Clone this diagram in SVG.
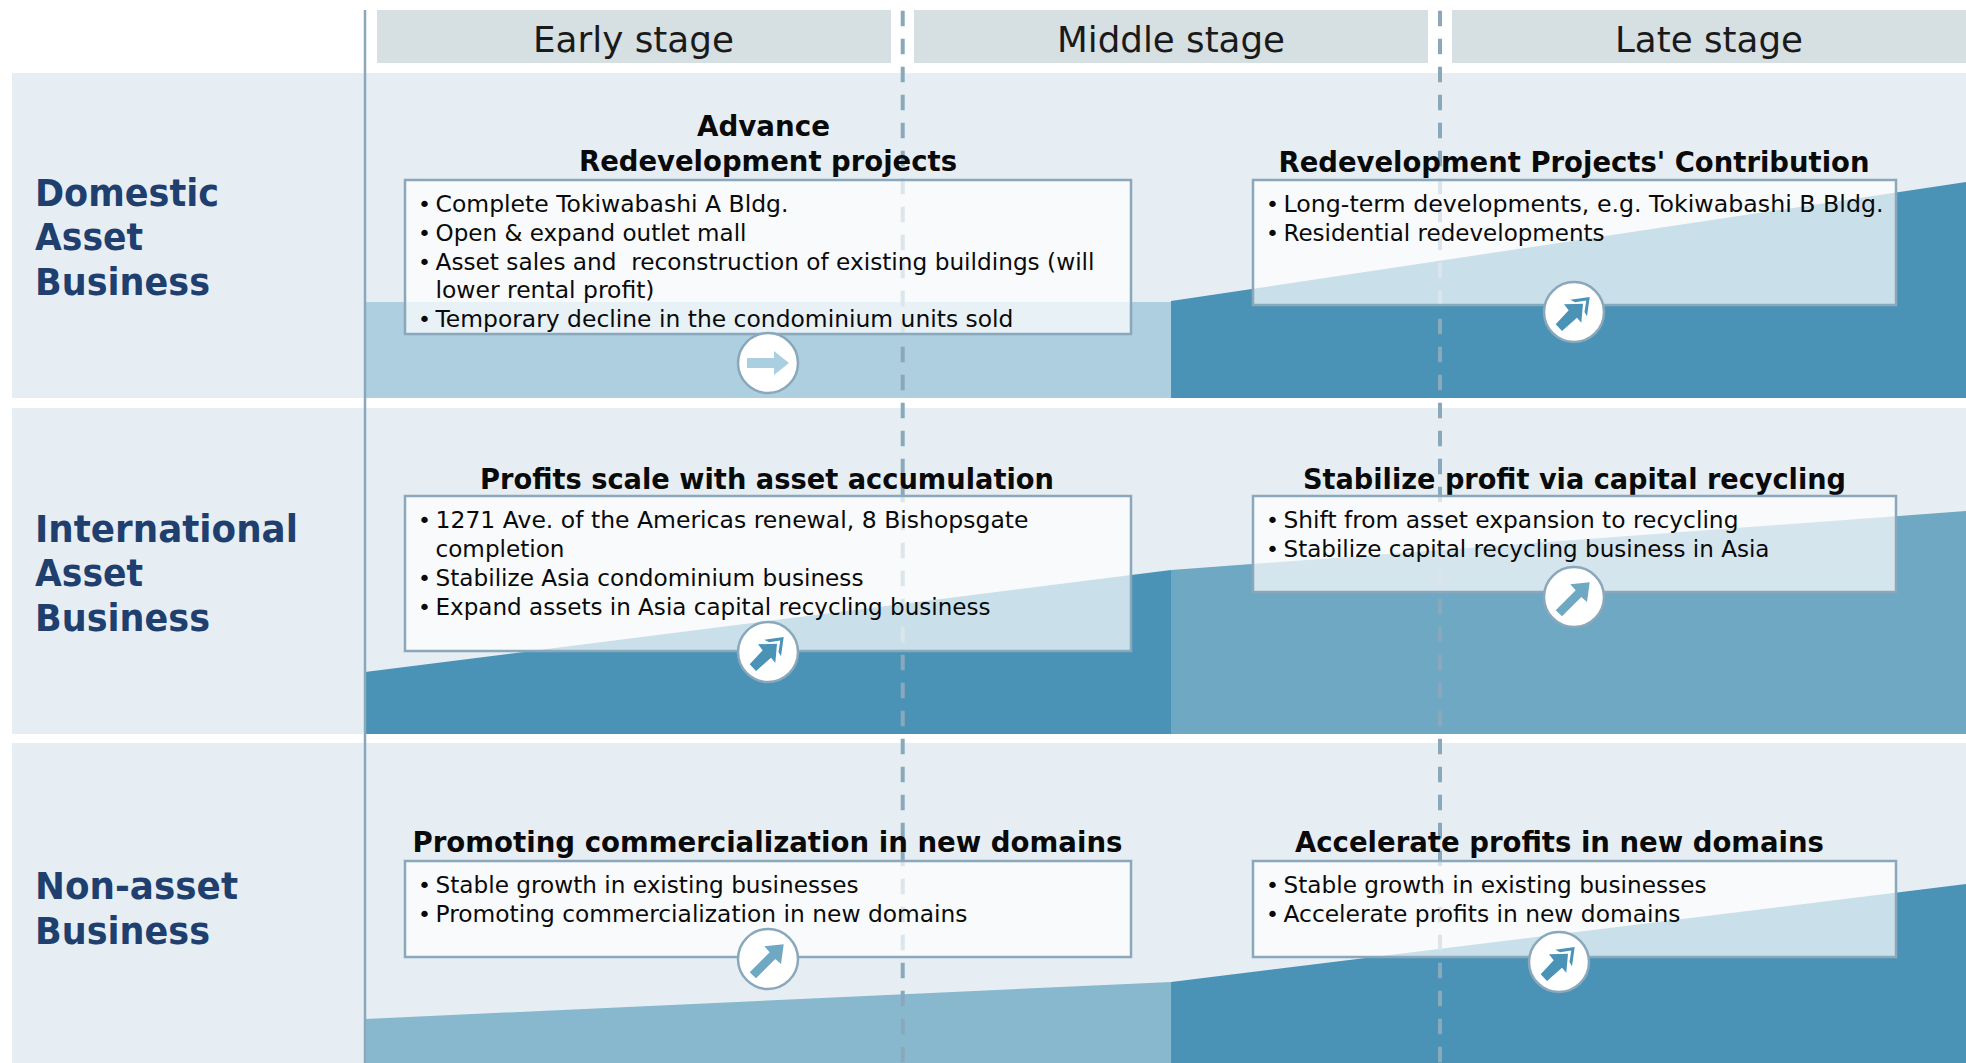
<svg xmlns="http://www.w3.org/2000/svg" width="1966" height="1063" viewBox="0 0 1966 1063">
<style>
text{font-family:"DejaVu Sans","Liberation Sans",sans-serif;fill:#0a0a0a}
.hd{font-size:36px;fill:#1a1a1a}
.lb{font-size:37px;font-weight:700;fill:#1f3f6e}
.ti{font-size:27.5px;font-weight:700}
.bd{font-size:23.5px}
.bu{font-size:22px}
.row{fill:#e6eef4}
.hdr{fill:#d6dfe2}
.box{fill:#fff;fill-opacity:.7;stroke:#8aa8bb;stroke-width:2.5}
.cir{fill:#fff;stroke:#8aa8bb;stroke-width:2.5}
.dash{fill:none;stroke:#8aa8bb;stroke-width:4;stroke-dasharray:15.5 12.5}
.axis{fill:none;stroke:#8aa8bb;stroke-width:2.5}
</style>
<defs>
<g id="dbl" fill="#4a93b6">
<polygon points="-18.3,12.3 -12,19 3,5.7 7.3,10.7 9,-8.3 -10,-7.7 -5.3,-1.7"/>
<polygon points="-3.7,-12.3 15.7,-15 13,4.3 10.5,0 12.3,-11.5 1,-9.7"/>
</g>
<polygon id="sgl" fill="#6fa8c3" points="-18.3,13.3 -12,19.3 7.3,0 13,5 15.7,-14.7 -3.7,-12.7 1.7,-6.7"/>
</defs>
<g id="rows">
<rect class="row" x="12" y="73" width="1954" height="325"/>
<rect class="row" x="12" y="408" width="1954" height="326"/>
<rect class="row" x="12" y="743" width="1954" height="320"/>
</g>
<g id="areas">
<polygon fill="#aecfdf" points="365,302 1171,302 1171,398 365,398"/>
<polygon fill="#4a93b6" points="1171,301 1966,182 1966,398 1171,398"/>
<polygon fill="#4a93b6" points="365,672 1171,570 1171,734 365,734"/>
<polygon fill="#6fa8c3" points="1171,570 1966,511 1966,734 1171,734"/>
<polygon fill="#88b8ce" points="365,1019 1171,982 1171,1063 365,1063"/>
<polygon fill="#4a93b6" points="1171,982 1966,884 1966,1063 1171,1063"/>
</g>
<g id="connectors">
<line class="axis" x1="365" y1="10" x2="365" y2="1063"/>
<line class="dash" x1="902.7" y1="10.7" x2="902.7" y2="1063"/>
<line class="dash" x1="1440" y1="10.7" x2="1440" y2="1063"/>
</g>
<g id="header-early"><rect class="hdr" x="377" y="10" width="514" height="53"/><text class="hd" x="533" y="52" textLength="201" lengthAdjust="spacingAndGlyphs">Early stage</text></g>
<g id="header-middle"><rect class="hdr" x="914" y="10" width="514" height="53"/><text class="hd" x="1057" y="52" textLength="228" lengthAdjust="spacingAndGlyphs">Middle stage</text></g>
<g id="header-late"><rect class="hdr" x="1452" y="10" width="514" height="53"/><text class="hd" x="1615" y="52" textLength="188" lengthAdjust="spacingAndGlyphs">Late stage</text></g>
<g id="label-domestic">
<text class="lb" x="35" y="206" textLength="184" lengthAdjust="spacingAndGlyphs">Domestic</text>
<text class="lb" x="35" y="250" textLength="108" lengthAdjust="spacingAndGlyphs">Asset</text>
<text class="lb" x="35" y="295" textLength="175" lengthAdjust="spacingAndGlyphs">Business</text>
</g>
<g id="label-international">
<text class="lb" x="35" y="542" textLength="263" lengthAdjust="spacingAndGlyphs">International</text>
<text class="lb" x="35" y="586" textLength="108" lengthAdjust="spacingAndGlyphs">Asset</text>
<text class="lb" x="35" y="631" textLength="175" lengthAdjust="spacingAndGlyphs">Business</text>
</g>
<g id="label-nonasset">
<text class="lb" x="35" y="899" textLength="203" lengthAdjust="spacingAndGlyphs">Non-asset</text>
<text class="lb" x="35" y="944" textLength="175" lengthAdjust="spacingAndGlyphs">Business</text>
</g>
<g id="node-domestic-early">
<text class="ti" x="697" y="136" textLength="133" lengthAdjust="spacingAndGlyphs">Advance</text>
<text class="ti" x="579" y="171" textLength="378" lengthAdjust="spacingAndGlyphs">Redevelopment projects</text>
<rect class="box" x="405" y="180" width="726" height="154"/>
<text class="bu" x="418" y="212">•</text><text class="bd" x="435.5" y="212" textLength="353" lengthAdjust="spacingAndGlyphs">Complete Tokiwabashi A Bldg.</text>
<text class="bu" x="418" y="241">•</text><text class="bd" x="435.5" y="241" textLength="311" lengthAdjust="spacingAndGlyphs">Open &amp; expand outlet mall</text>
<text class="bu" x="418" y="269.5">•</text><text class="bd" x="435.5" y="269.5" textLength="659" lengthAdjust="spacingAndGlyphs" xml:space="preserve">Asset sales and  reconstruction of existing buildings (will</text>
<text class="bd" x="435.5" y="297.5" textLength="219" lengthAdjust="spacingAndGlyphs">lower rental profit)</text>
<text class="bu" x="418" y="327">•</text><text class="bd" x="435.5" y="327" textLength="578" lengthAdjust="spacingAndGlyphs">Temporary decline in the condominium units sold</text>
<circle class="cir" cx="768" cy="363" r="30"/>
<polygon fill="#a9cfe0" points="747,358 774,358 774,351 789,363 774,375 774,368 747,368"/>
</g>
<g id="node-domestic-late">
<text class="ti" x="1278.5" y="172" textLength="591" lengthAdjust="spacingAndGlyphs">Redevelopment Projects' Contribution</text>
<rect class="box" x="1253" y="180" width="643" height="125"/>
<text class="bu" x="1266" y="212">•</text><text class="bd" x="1283.5" y="212" textLength="600" lengthAdjust="spacingAndGlyphs">Long-term developments, e.g. Tokiwabashi B Bldg.</text>
<text class="bu" x="1266" y="241">•</text><text class="bd" x="1283.5" y="241" textLength="321" lengthAdjust="spacingAndGlyphs">Residential redevelopments</text>
<circle class="cir" cx="1574" cy="312" r="30"/>
<use href="#dbl" x="1574" y="312"/>
</g>
<g id="node-international-early">
<text class="ti" x="480" y="489" textLength="574" lengthAdjust="spacingAndGlyphs">Profits scale with asset accumulation</text>
<rect class="box" x="405" y="496" width="726" height="155"/>
<text class="bu" x="418" y="528">•</text><text class="bd" x="435.5" y="528" textLength="593" lengthAdjust="spacingAndGlyphs">1271 Ave. of the Americas renewal, 8 Bishopsgate</text>
<text class="bd" x="435.5" y="557" textLength="129" lengthAdjust="spacingAndGlyphs">completion</text>
<text class="bu" x="418" y="586">•</text><text class="bd" x="435.5" y="586" textLength="428" lengthAdjust="spacingAndGlyphs">Stabilize Asia condominium business</text>
<text class="bu" x="418" y="615">•</text><text class="bd" x="435.5" y="615" textLength="555" lengthAdjust="spacingAndGlyphs">Expand assets in Asia capital recycling business</text>
<circle class="cir" cx="768" cy="652" r="30"/>
<use href="#dbl" x="768" y="652"/>
</g>
<g id="node-international-late">
<text class="ti" x="1303" y="489" textLength="543" lengthAdjust="spacingAndGlyphs">Stabilize profit via capital recycling</text>
<rect class="box" x="1253" y="496" width="643" height="96"/>
<text class="bu" x="1266" y="528">•</text><text class="bd" x="1283.5" y="528" textLength="455" lengthAdjust="spacingAndGlyphs">Shift from asset expansion to recycling</text>
<text class="bu" x="1266" y="557">•</text><text class="bd" x="1283.5" y="557" textLength="486" lengthAdjust="spacingAndGlyphs">Stabilize capital recycling business in Asia</text>
<circle class="cir" cx="1574" cy="597" r="30"/>
<use href="#sgl" x="1574" y="597"/>
</g>
<g id="node-nonasset-early">
<text class="ti" x="412.5" y="852" textLength="710" lengthAdjust="spacingAndGlyphs">Promoting commercialization in new domains</text>
<rect class="box" x="405" y="861" width="726" height="96"/>
<text class="bu" x="418" y="893">•</text><text class="bd" x="435.5" y="893" textLength="423" lengthAdjust="spacingAndGlyphs">Stable growth in existing businesses</text>
<text class="bu" x="418" y="922">•</text><text class="bd" x="435.5" y="922" textLength="532" lengthAdjust="spacingAndGlyphs">Promoting commercialization in new domains</text>
<circle class="cir" cx="768" cy="959" r="30"/>
<use href="#sgl" x="768" y="959"/>
</g>
<g id="node-nonasset-late">
<text class="ti" x="1295" y="852" textLength="529" lengthAdjust="spacingAndGlyphs">Accelerate profits in new domains</text>
<rect class="box" x="1253" y="861" width="643" height="96"/>
<text class="bu" x="1266" y="893">•</text><text class="bd" x="1283.5" y="893" textLength="423" lengthAdjust="spacingAndGlyphs">Stable growth in existing businesses</text>
<text class="bu" x="1266" y="922">•</text><text class="bd" x="1283.5" y="922" textLength="397" lengthAdjust="spacingAndGlyphs">Accelerate profits in new domains</text>
<circle class="cir" cx="1559" cy="962" r="30"/>
<use href="#dbl" x="1559" y="962"/>
</g>
</svg>
